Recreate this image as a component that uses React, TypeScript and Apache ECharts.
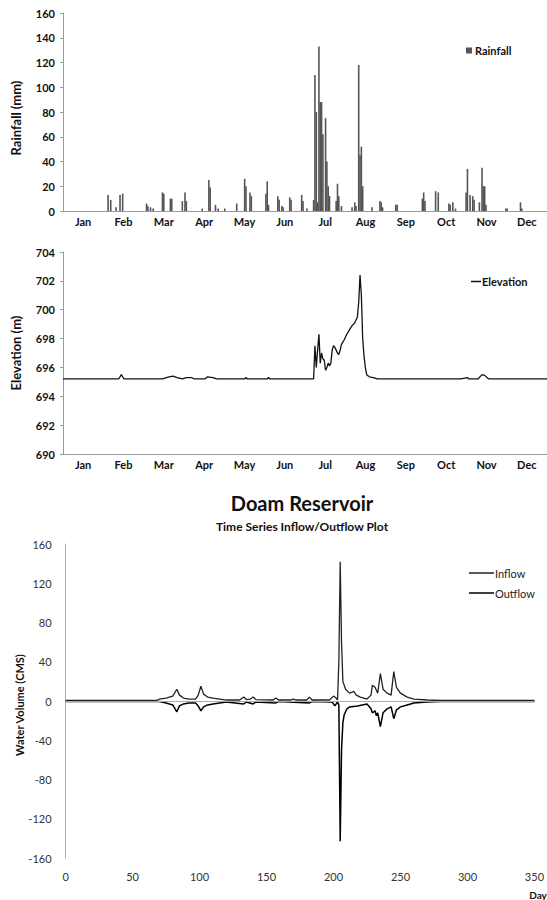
import React, { useEffect, useRef } from "react";
import * as echarts from "echarts";

const months = ["Jan", "Feb", "Mar", "Apr", "May", "Jun", "Jul", "Aug", "Sep", "Oct", "Nov", "Dec"];

const rainDays = [34, 36, 40, 43, 45, 63, 64, 66, 68, 75, 76, 81, 82, 90, 92, 93, 105, 110, 111, 115, 117, 122, 131, 137, 138, 141, 142, 153, 154, 155, 162, 163, 165, 166, 171, 172, 180, 181, 184, 189, 190, 191, 192, 193, 194, 195, 196, 198, 199, 200, 201, 206, 207, 208, 210, 218, 220, 221, 223, 224, 225, 226, 233, 239, 240, 241, 251, 252, 271, 272, 273, 281, 283, 291, 292, 294, 296, 304, 305, 307, 309, 310, 314, 316, 317, 318, 319, 334, 335, 345, 346];
const rainValues = [13, 9, 3, 13, 14, 6, 4, 3, 2, 15, 14, 10, 10, 8, 15, 8, 2, 25, 19, 5, 2, 2, 6, 26, 20, 15, 12, 14, 24, 5, 12, 9, 4, 3, 11, 9, 13, 8, 2, 9, 110, 80, 7, 133, 88, 88, 62, 75, 40, 20, 12, 8, 22, 12, 4, 3, 7, 4, 118, 45, 52, 20, 3, 8, 7, 3, 5, 5, 10, 15, 8, 16, 15, 6, 5, 7, 2, 15, 34, 13, 12, 9, 7, 35, 20, 20, 5, 2, 2, 7, 2];

const elevDays = [0, 42, 44, 46, 75, 80, 83, 86, 90, 93, 97, 99, 107, 109, 113, 116, 137, 138, 139, 154, 155, 156, 189, 190, 191, 192, 193, 194, 195, 196, 197, 198, 199, 200, 201, 202, 203, 204, 205, 206, 207, 208, 209, 210, 212, 214, 216, 218, 220, 222, 223, 224, 225, 226, 227, 228, 229, 231, 234, 237, 300, 305, 306, 313, 316, 318, 321, 365];
const elevValues = [695.2, 695.2, 695.5, 695.2, 695.2, 695.35, 695.4, 695.3, 695.2, 695.3, 695.3, 695.2, 695.2, 695.35, 695.3, 695.2, 695.2, 695.3, 695.2, 695.2, 695.3, 695.2, 695.2, 697.5, 696.0, 697.2, 698.3, 696.3, 697.0, 696.6, 696.5, 695.8, 696.0, 696.3, 696.1, 696.3, 697.2, 697.5, 697.4, 697.2, 697.0, 696.9, 697.2, 697.6, 697.9, 698.3, 698.6, 698.9, 699.1, 699.5, 700.5, 702.4, 701.0, 698.0, 696.8, 696.0, 695.5, 695.35, 695.3, 695.2, 695.2, 695.3, 695.2, 695.2, 695.5, 695.45, 695.2, 695.2];

const inflowDays = [0, 68, 70, 75, 80, 83, 85, 88, 92, 97, 99, 101, 103, 106, 110, 115, 120, 130, 133, 135, 138, 140, 142, 155, 157, 159, 168, 170, 172, 180, 182, 184, 197, 200, 202, 203, 204, 205, 206, 207, 209, 212, 214, 215, 217, 220, 225, 228, 229, 231, 233, 235, 237, 240, 243, 245, 247, 250, 255, 260, 270, 280, 350];
const inflowValues = [0.5, 0.5, 2, 3, 5, 12, 6, 3, 2, 2, 6, 15, 7, 4, 3, 2, 1, 1, 4, 1.5, 2, 4, 1.5, 1, 3, 1, 1, 2, 1, 1, 4, 1, 1, 5, 3, 1, 40, 142, 60, 20, 12, 8, 9, 10, 6, 4, 2, 6, 16, 14, 8, 28, 12, 8, 6, 30, 14, 8, 4, 2, 1, 0.5, 0.5];

const outflowDays = [0, 70, 75, 80, 83, 85, 88, 92, 97, 99, 101, 103, 106, 110, 115, 120, 133, 135, 140, 142, 157, 159, 182, 184, 199, 201, 203, 204, 205, 206, 207, 208, 210, 212, 218, 225, 228, 229, 231, 232, 233, 235, 237, 240, 243, 245, 247, 250, 255, 260, 270, 280, 350];
const outflowValues = [-0.5, -0.5, -2, -4, -11, -5, -3, -2, -2, -5, -10, -6, -4, -3, -2, -1, -3, -1, -3, -1, -2, -0.5, -2, -0.5, -1, -5, -1, -4, -143, -50, -22, -14, -8, -6, -5, -3, -8, -12, -10, -15, -12, -26, -12, -8, -6, -18, -9, -6, -4, -2, -1, -0.5, -0.5];

const zip = (a: number[], b: number[]) => a.map((v, i) => [v, b[i]]);

export default function App() {
  const ref = useRef<HTMLDivElement>(null);
  useEffect(() => {
    if (!ref.current) return;
    const chart = echarts.init(ref.current, undefined, { renderer: "svg" });
    const axisGrey = { lineStyle: { color: "#9a9a9a", width: 1 } };
    const boldLabel = { fontWeight: "bold" as const, fontSize: 11, color: "#111", fontFamily: "Lato" };
    const monthAxis = (gi: number) => ({
      gridIndex: gi,
      type: "category",
      data: months,
      position: "bottom",
      axisLine: { show: false },
      axisTick: { show: false },
      axisLabel: { ...boldLabel, margin: 5 },
      splitLine: { show: false },
    });
    const dayAxis = (gi: number) => ({
      gridIndex: gi,
      type: "value",
      min: 0,
      max: 365,
      position: "bottom",
      axisLine: { show: true, onZero: false, ...axisGrey },
      axisTick: { show: false },
      axisLabel: { show: false },
      splitLine: { show: false },
    });
    const option: any = {
      animation: false,
      textStyle: { fontFamily: "Lato" },
      grid: [
        { left: 63, top: 13, width: 484, height: 198 },
        { left: 63, top: 252, width: 484, height: 202 },
        { left: 65.6, top: 544, width: 473.4, height: 314 },
      ],
      xAxis: [
        dayAxis(0),
        monthAxis(0),
        dayAxis(1),
        monthAxis(1),
        {
          gridIndex: 2,
          type: "value",
          min: 0,
          max: 350,
          interval: 50,
          position: "bottom",
          axisLine: { show: false, onZero: false },
          axisTick: { show: false },
          axisLabel: { fontSize: 11, color: "#333", margin: 13, fontFamily: "Lato" },
          splitLine: { show: false },
        },
      ],
      yAxis: [
        {
          gridIndex: 0,
          type: "value",
          min: 0,
          max: 160,
          interval: 20,
          axisLine: { show: true, ...axisGrey },
          axisTick: { show: true, length: 3, ...axisGrey },
          axisLabel: { ...boldLabel, margin: 8 },
          splitLine: { show: false },
        },
        {
          gridIndex: 1,
          type: "value",
          min: 690,
          max: 704,
          interval: 2,
          axisLine: { show: true, ...axisGrey },
          axisTick: { show: true, length: 3, ...axisGrey },
          axisLabel: { ...boldLabel, margin: 8 },
          splitLine: { show: false },
        },
        {
          gridIndex: 2,
          type: "value",
          min: -160,
          max: 160,
          interval: 40,
          axisLine: { show: true, lineStyle: { color: "#b0b0b0", width: 1 } },
          axisTick: { show: false },
          axisLabel: { fontSize: 11, color: "#333", margin: 14, fontFamily: "Lato" },
          splitLine: { show: false },
        },
      ],
      legend: [
        {
          data: ["Rainfall"],
          left: 461,
          top: 40,
          icon: "rect",
          itemWidth: 6,
          itemHeight: 6,
          textStyle: { ...boldLabel, padding: [0, 0, 0, -2] },
        },
        {
          data: ["Elevation"],
          left: 466,
          top: 271,
          icon: "rect",
          itemWidth: 10,
          itemHeight: 1.5,
          textStyle: { ...boldLabel, padding: [0, 0, 0, -4] },
        },
        {
          data: ["Inflow", "Outflow"],
          left: 464,
          top: 562,
          orient: "vertical",
          icon: "rect",
          itemWidth: 25,
          itemHeight: 1.5,
          itemGap: 8,
          textStyle: { fontSize: 11, color: "#222", lineHeight: 12, fontFamily: "Lato", padding: [0, 0, 0, -4] },
        },
      ],
      graphic: [
        { type: "text", x: 16, y: 118, rotation: Math.PI / 2, style: { text: "Rainfall (mm)", font: "bold 13px Lato", fill: "#111", align: "center", verticalAlign: "middle" } },
        { type: "text", x: 16, y: 353, rotation: Math.PI / 2, style: { text: "Elevation (m)", font: "bold 13px Lato", fill: "#111", align: "center", verticalAlign: "middle" } },
        { type: "text", x: 19, y: 705, rotation: Math.PI / 2, style: { text: "Water Volume (CMS)", font: "bold 11px Lato", fill: "#111", align: "center", verticalAlign: "middle" } },
        { type: "text", x: 302, y: 503, style: { text: "Doam Reservoir", font: "bold 20px Lato", fill: "#111", align: "center", verticalAlign: "middle" } },
        { type: "text", x: 302, y: 526, style: { text: "Time Series Inflow/Outflow Plot", font: "bold 12px Lato", fill: "#111", align: "center", verticalAlign: "middle" } },
        { type: "text", x: 538, y: 895, style: { text: "Day", font: "bold 10px Lato", fill: "#111", align: "center", verticalAlign: "middle" } },
      ],
      series: [
        {
          name: "Rainfall",
          type: "bar",
          xAxisIndex: 0,
          yAxisIndex: 0,
          barWidth: 1.6,
          itemStyle: { color: "#555" },
          data: zip(rainDays, rainValues),
        },
        {
          name: "Elevation",
          type: "line",
          xAxisIndex: 2,
          yAxisIndex: 1,
          showSymbol: false,
          symbol: "none",
          itemStyle: { color: "#111" },
          lineStyle: { color: "#111", width: 1.3 },
          data: zip(elevDays, elevValues),
        },
        {
          name: "Inflow",
          type: "line",
          xAxisIndex: 4,
          yAxisIndex: 2,
          showSymbol: false,
          symbol: "none",
          itemStyle: { color: "#222" },
          lineStyle: { color: "#222", width: 1.3 },
          data: zip(inflowDays, inflowValues),
          markLine: {
            silent: true,
            symbol: "none",
            label: { show: false },
            lineStyle: { color: "#aaa", type: "solid", width: 1 },
            data: [{ yAxis: 0 }],
          },
        },
        {
          name: "Outflow",
          type: "line",
          xAxisIndex: 4,
          yAxisIndex: 2,
          showSymbol: false,
          symbol: "none",
          itemStyle: { color: "#000" },
          lineStyle: { color: "#000", width: 1.5 },
          data: zip(outflowDays, outflowValues),
        },
      ],
    };
    chart.setOption(option);
    return () => chart.dispose();
  }, []);
  return <div ref={ref} style={{ position: "absolute", left: 0, top: 0, width: 547, height: 900, background: "#fff" }} />;
}
